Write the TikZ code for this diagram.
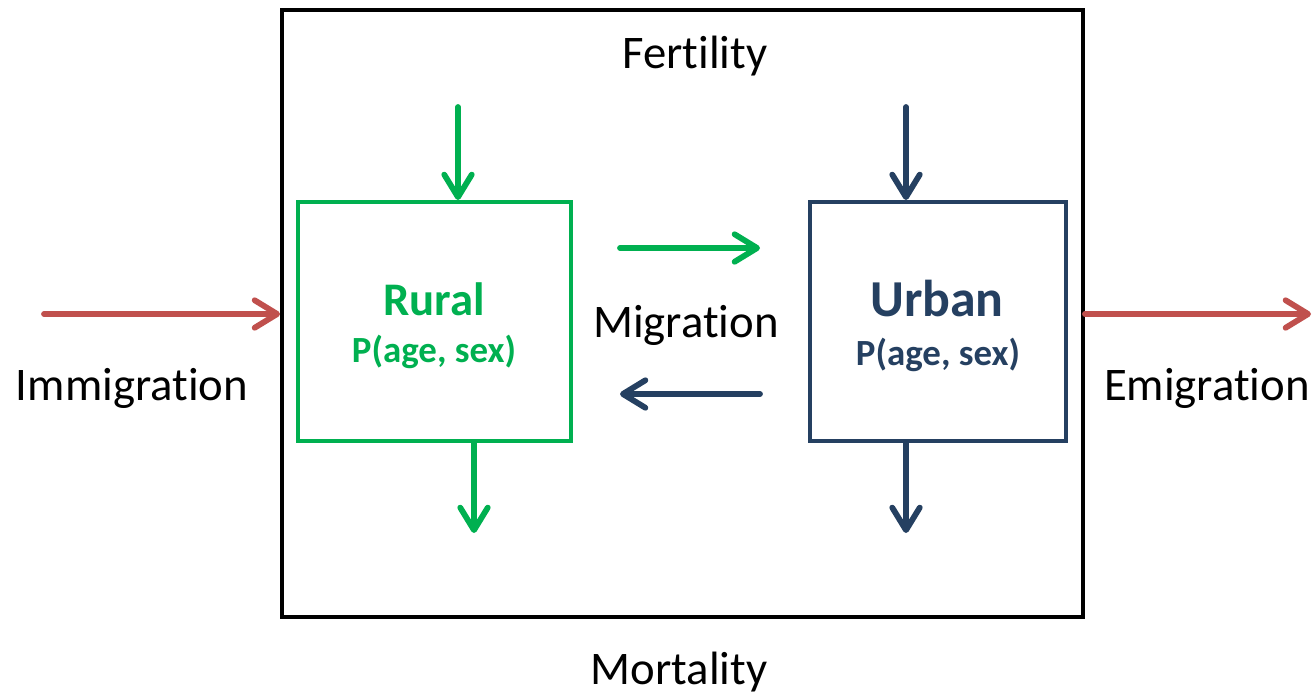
\documentclass[tikz,border=0pt]{standalone}
\usepackage{fontspec}
\setmainfont{Carlito}[Ligatures=NoCommon]
\usetikzlibrary{arrows.meta,positioning}
\definecolor{ruralgreen}{HTML}{00B050}
\definecolor{urbanblue}{HTML}{254061}
\definecolor{flowred}{HTML}{C0504D}

\begin{document}
\begin{tikzpicture}[x=0.02cm,y=-0.02cm,
  box/.style={draw,line width=2.3pt,inner sep=0pt},
  flow/.style={line width=3.3pt,line cap=round,
    -{Straight Barb[round,length=0.45cm,width=0.55cm]}},
  lbl/.style={anchor=base,inner sep=0pt,font=\fontsize{26.6}{30}\selectfont},
  plbl/.style={anchor=base,inner sep=0pt,font=\fontsize{21}{24}\selectfont\bfseries}]
\useasboundingbox (0,0) rectangle (1313,698);
\node[box,minimum width=16.02cm,minimum height=12.14cm] (region) at (682.5,313.5) {};
\node[box,draw=ruralgreen,minimum width=5.46cm,minimum height=4.78cm] (rural) at (434.5,321.5) {};
\node[box,draw=urbanblue,minimum width=5.12cm,minimum height=4.78cm] (urban) at (938,321.5) {};

\node[lbl] (fertility) at (695,68) {Fertility};
\node[lbl] (mortality) at (679,684) {Mortality};
\node[lbl] (migration) at (686,337) {Migration};
\node[lbl] (immigration) at (132,400) {Immigration};
\node[lbl] (emigration) at (1207,400) {Emigration};
\node[lbl,text=ruralgreen,font=\fontsize{26.6}{30}\selectfont\bfseries] (ruralname) at (434,315) {Rural};
\node[plbl,text=ruralgreen] (ruralp) at (434,362) {P(age, sex)};
\node[lbl,text=urbanblue,font=\fontsize{29.5}{33}\selectfont\bfseries] (urbanname) at (937,316) {Urban};
\node[plbl,text=urbanblue] (urbanp) at (938,365) {P(age, sex)};

\coordinate (rbirth) at (458,107);
\coordinate (rdeath) at (474,533);
\coordinate (ubirth) at (906,107);
\coordinate (udeath) at (906,533);
\coordinate (rtou) at (620,248);
\coordinate (utor) at (760,394);
\coordinate (immin) at (44,314);
\coordinate (emout) at (1311,314);

\draw[flow,ruralgreen] (rbirth) -- (rbirth |- rural.north);
\draw[flow,ruralgreen] (rdeath |- rural.south) -- (rdeath);
\draw[flow,urbanblue] (ubirth) -- (ubirth |- urban.north);
\draw[flow,urbanblue] (udeath |- urban.south) -- (udeath);
\draw[flow,ruralgreen] (rtou) -- (rtou -| utor);
\draw[flow,urbanblue] (utor) -- (utor -| rtou);
\draw[flow,flowred] (immin) -- (immin -| region.west);
\draw[flow,flowred] (emout -| region.east) -- (emout);
\end{tikzpicture}
\end{document}
